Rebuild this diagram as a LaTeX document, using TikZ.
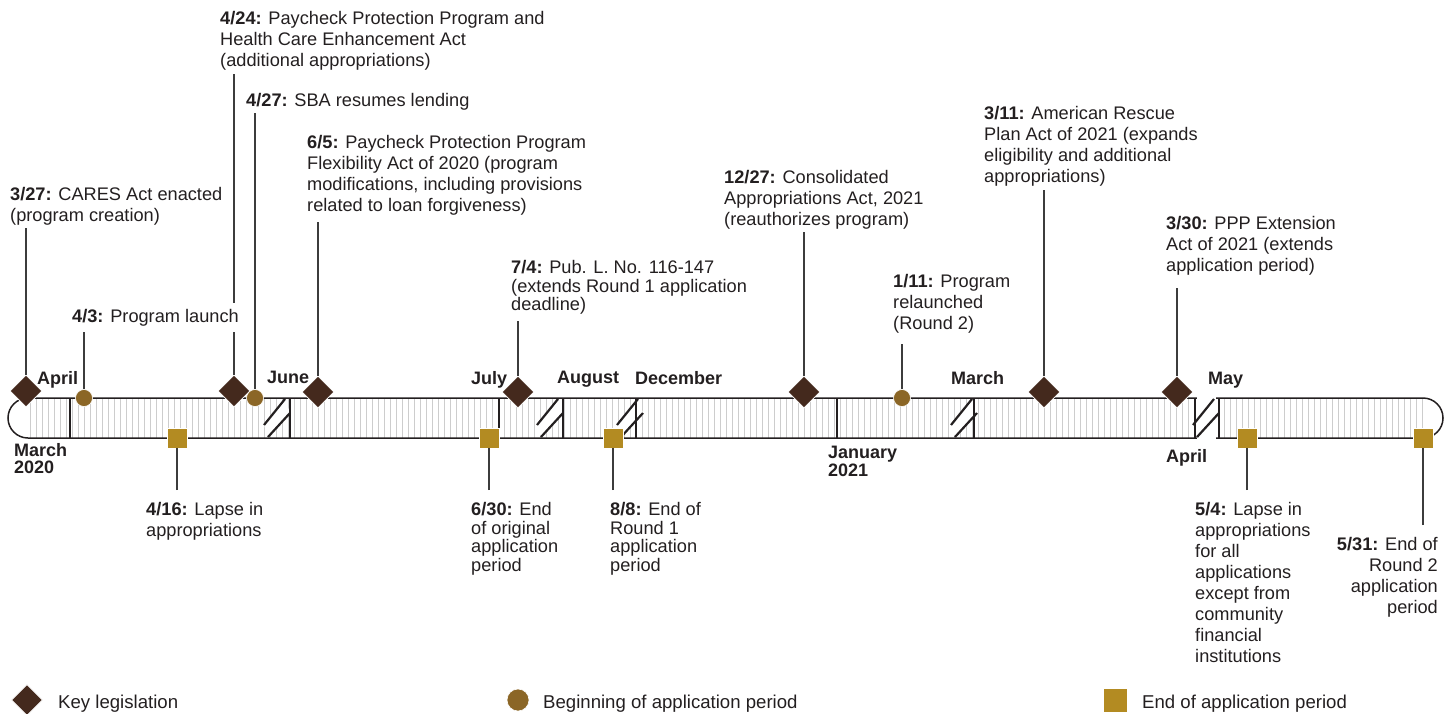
\documentclass[tikz,border=0pt]{standalone}
\usepackage{fontspec}
\setmainfont{Liberation Sans}
\usepackage{tikz}
\usetikzlibrary{shapes.geometric}
\definecolor{ink}{HTML}{231F20}
\definecolor{legiscol}{HTML}{44291D}
\definecolor{launchcol}{HTML}{8B6626}
\definecolor{endcol}{HTML}{B38B22}
\definecolor{stripecol}{HTML}{CDCDCD}
\definecolor{stemcol}{HTML}{3C3C3C}

\begin{document}
\begin{tikzpicture}[x=1pt,y=-1pt,
  lbl/.style={anchor=north west,inner sep=0pt,align=left,text=ink,font=\fontsize{18.2}{21}\selectfont},
  tight/.style={font=\fontsize{18.2}{18.7}\selectfont},
  mon/.style={anchor=north west,inner sep=0pt,align=left,text=ink,font=\bfseries\fontsize{18}{17.5}\selectfont},
  keytext/.style={anchor=base west,inner sep=0pt,text=ink,font=\fontsize{18.6}{21}\selectfont},
  stem/.style={draw=stemcol,line width=1.2pt},
  legis/.style={diamond,aspect=1,minimum size=32pt,inner sep=0pt,fill=legiscol,draw=white,line width=0.6pt},
  launch/.style={circle,minimum size=17pt,inner sep=0pt,fill=launchcol,draw=white,line width=0.6pt},
  closing/.style={rectangle,minimum size=20pt,inner sep=0pt,fill=endcol,draw=white,line width=0.6pt}]
\useasboundingbox (0,0) rectangle (1455,713);
\foreach \x in {30,36,...,1422} \draw[stripecol,line width=0.9pt] (\x,398) -- (\x,438);
\foreach \b in {290,563,643,977,1219} \fill[white] (\b-26,425) -- (\b-5,399) -- (\b,413) -- (\b-22,437) -- cycle;
\draw[ink,line width=1.5pt,rounded corners=20pt] (8,398) rectangle (1443,438);
\fill[white] (1197,396) rectangle (1216,440);
\foreach \x in {70,290,499,563,636,837,974,1195,1219} \draw[ink,line width=2.6pt] (\x,398) -- (\x,438);
\foreach \b in {290,563,643,977,1219} \draw[ink,line width=2.2pt] (\b-26,425) -- (\b-5,399) (\b-22,437) -- (\b,413);

\node[mon] (march) at (14,443) {March\\2020};
\node[mon] (april) at (37,371) {April};
\node[mon] (june) at (267,371) {June};
\node[mon] (july) at (471,371) {July};
\node[mon] (august) at (557,371) {August};
\node[mon] (december) at (635,371) {December};
\node[mon] (january) at (828,446) {January\\2021};
\node[mon] (marchb) at (951,371) {March};
\node[mon] (aprilb) at (1166,449) {April};
\node[mon] (may) at (1208,372) {May};

\node[legis] (m327) at (26,391) {}; \coordinate (e327) at (26,228);
\node[launch] (m43) at (84,398) {}; \coordinate (e43) at (84,328);
\node[legis] (m424) at (234,391) {}; \coordinate (e424) at (234,74);
\node[launch] (m427) at (255,398) {}; \coordinate (e427) at (255,113);
\node[legis] (m65) at (318,392) {}; \coordinate (e65) at (318,222);
\node[legis] (m74) at (518,392) {}; \coordinate (e74) at (518,321);
\node[legis] (m1227) at (804,392) {}; \coordinate (e1227) at (804,232);
\node[launch] (m111) at (902,398) {}; \coordinate (e111) at (902,344);
\node[legis] (m311) at (1044,392) {}; \coordinate (e311) at (1044,190);
\node[legis] (m330) at (1177,392) {}; \coordinate (e330) at (1177,288);
\node[closing] (m416) at (177,438) {}; \coordinate (e416) at (177,490);
\node[closing] (m630) at (489,438) {}; \coordinate (e630) at (489,490);
\node[closing] (m88) at (613,438) {}; \coordinate (e88) at (613,490);
\node[closing] (m54) at (1247,438) {}; \coordinate (e54) at (1247,490);
\node[closing] (m531) at (1423,438) {}; \coordinate (e531) at (1423,525);
\foreach \d in {327,43,424,427,65,74,1227,111,311,330,416,630,88,54,531} \draw[stem] (e\d) -- (m\d);

\node[lbl] (t327) at (10,187) {\textbf{3/27:} CARES Act enacted\\(program creation)};
\node[lbl,fill=white,inner xsep=2pt,inner ysep=6pt] (t43) at (70,303) {\textbf{4/3:} Program launch};
\node[lbl] (t424) at (220,11) {\textbf{4/24:} Paycheck Protection Program and\\Health Care Enhancement Act\\(additional appropriations)};
\node[lbl] (t427) at (246,93) {\textbf{4/27:} SBA resumes lending};
\node[lbl] (t65) at (307,135) {\textbf{6/5:} Paycheck Protection Program\\Flexibility Act of 2020 (program\\modifications, including provisions\\related to loan forgiveness)};
\node[lbl,tight] (t74) at (511,260) {\textbf{7/4:} Pub. L. No. 116-147\\(extends Round 1 application\\deadline)};
\node[lbl] (t1227) at (724,170) {\textbf{12/27:} Consolidated\\Appropriations Act, 2021\\(reauthorizes program)};
\node[lbl] (t111) at (893,274) {\textbf{1/11:} Program\\relaunched\\(Round 2)};
\node[lbl] (t311) at (984,106) {\textbf{3/11:} American Rescue\\Plan Act of 2021 (expands\\eligibility and additional\\appropriations)};
\node[lbl] (t330) at (1166,216) {\textbf{3/30:} PPP Extension\\Act of 2021 (extends\\application period)};
\node[lbl] (t416) at (146,502) {\textbf{4/16:} Lapse in\\appropriations};
\node[lbl,tight] (t630) at (471,502) {\textbf{6/30:} End\\of original\\application\\period};
\node[lbl,tight] (t88) at (610,502) {\textbf{8/8:} End of\\Round 1\\application\\period};
\node[lbl] (t54) at (1195,502) {\textbf{5/4:} Lapse in\\appropriations\\for all\\applications\\except from\\community\\financial\\institutions};
\node[lbl,anchor=north east,align=right] (t531) at (1438,537) {\textbf{5/31:} End of\\Round 2\\application\\period};

\node[legis,minimum size=31pt] (klegis) at (27,700) {};
\node[keytext] (tlegis) at (58,708) {Key legislation};
\node[launch,minimum size=22pt] (klaunch) at (518,700) {};
\node[keytext] (tlaunch) at (543,708) {Beginning of application period};
\node[closing,minimum size=24pt] (kclosing) at (1115,700) {};
\node[keytext] (tclosing) at (1142,708) {End of application period};
\end{tikzpicture}
\end{document}
